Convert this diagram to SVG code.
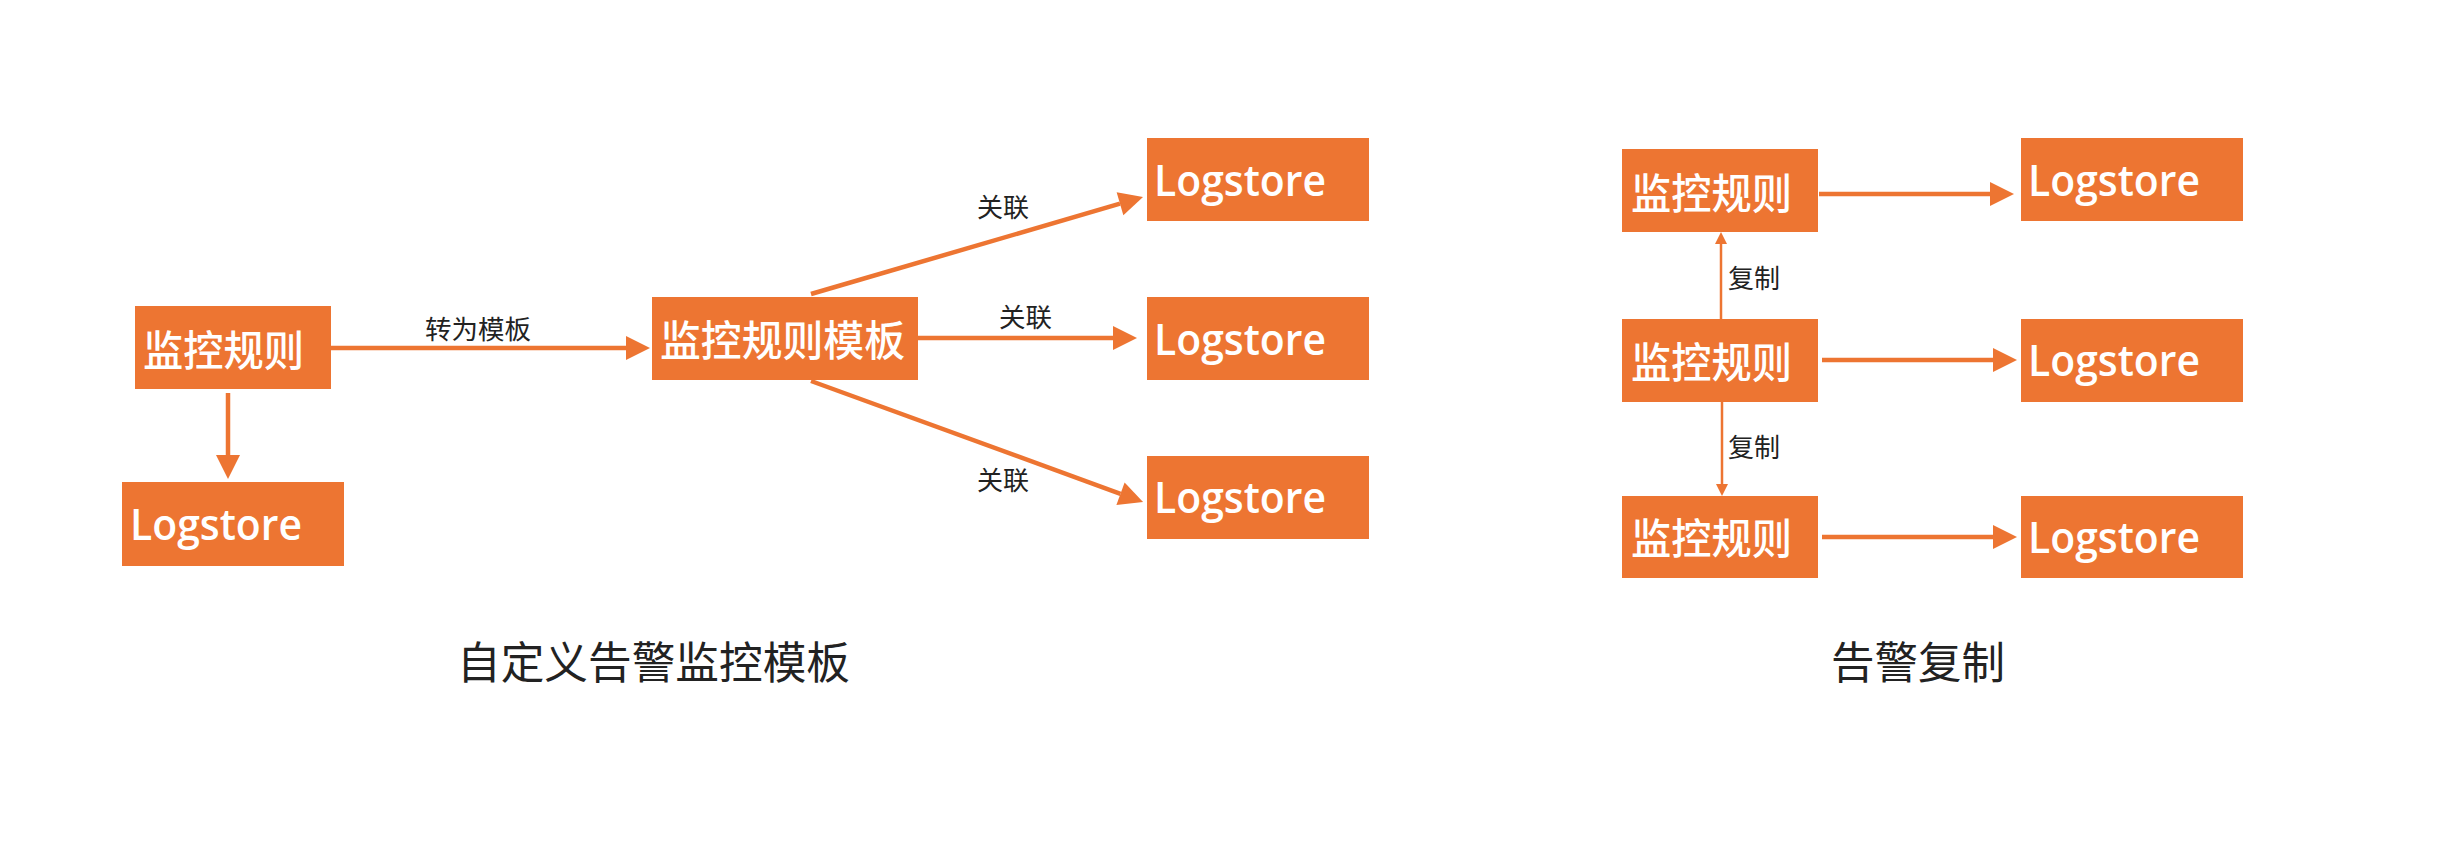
<svg xmlns="http://www.w3.org/2000/svg" width="2452" height="854" viewBox="0 0 2452 854">
<style>
.box{fill:#ED7532;}
.cn{font-family:"Noto Sans CJK SC","Microsoft YaHei",sans-serif;fill:#fff;font-size:42px;font-weight:500;}
.lg{font-family:"Open Sans","Noto Sans",sans-serif;fill:#fff;font-size:44px;font-weight:600;}
.lbl{font-family:"Noto Sans CJK SC",sans-serif;fill:#222;font-size:26px;}
.ttl{font-family:"Noto Sans CJK SC",sans-serif;fill:#222;font-size:44px;}
.thick{stroke:#ED7532;stroke-width:4.5;fill:none;marker-end:url(#ah);}
.thin{stroke:#ED7532;stroke-width:2.5;fill:none;marker-end:url(#ahs);}
</style>
<defs>
<marker id="ah" markerUnits="userSpaceOnUse" markerWidth="25" markerHeight="25" refX="0" refY="12" orient="auto" overflow="visible">
<path d="M0,0 L24,12 L0,24 z" fill="#ED7532"/>
</marker>
<marker id="ahs" markerUnits="userSpaceOnUse" markerWidth="13" markerHeight="13" refX="0" refY="6" orient="auto" overflow="visible">
<path d="M0,0 L12,6 L0,12 z" fill="#ED7532"/>
</marker>
</defs>
<rect width="2452" height="854" fill="#fff"/>

<g id="connectors">
<line class="thick" x1="331" y1="348" x2="626" y2="348"/>
<line class="thick" x1="228" y1="393" x2="228" y2="455"/>
<line class="thick" x1="811" y1="294" x2="1120" y2="203.7"/>
<line class="thick" x1="918" y1="338" x2="1113" y2="338"/>
<line class="thick" x1="811" y1="381" x2="1120.5" y2="493.8"/>
<line class="thick" x1="1819" y1="194" x2="1990" y2="194"/>
<line class="thick" x1="1822" y1="360" x2="1993" y2="360"/>
<line class="thick" x1="1822" y1="537" x2="1993" y2="537"/>
<line class="thin" x1="1721" y1="319" x2="1721" y2="244"/>
<line class="thin" x1="1722" y1="402" x2="1722" y2="484"/>
<text class="lbl" x="425" y="339" textLength="106" lengthAdjust="spacingAndGlyphs">转为模板</text>
<text class="lbl" x="977" y="217" textLength="52" lengthAdjust="spacingAndGlyphs">关联</text>
<text class="lbl" x="999" y="327" textLength="53" lengthAdjust="spacingAndGlyphs">关联</text>
<text class="lbl" x="977" y="490" textLength="52" lengthAdjust="spacingAndGlyphs">关联</text>
<text class="lbl" x="1728" y="288" textLength="52" lengthAdjust="spacingAndGlyphs">复制</text>
<text class="lbl" x="1728" y="457" textLength="52" lengthAdjust="spacingAndGlyphs">复制</text>
</g>

<g id="rule-left">
<rect class="box" x="135" y="306" width="196" height="83"/>
<text class="cn" x="143" y="366" textLength="161" lengthAdjust="spacingAndGlyphs">监控规则</text>
</g>
<g id="logstore-left">
<rect class="box" x="122" y="482" width="222" height="84"/>
<text class="lg" x="130" y="540" textLength="172" lengthAdjust="spacingAndGlyphs">Logstore</text>
</g>
<g id="template">
<rect class="box" x="652" y="297" width="266" height="83"/>
<text class="cn" x="660" y="356" textLength="245" lengthAdjust="spacingAndGlyphs">监控规则模板</text>
</g>
<g id="logstore-t1">
<rect class="box" x="1147" y="138" width="222" height="83"/>
<text class="lg" x="1154" y="196" textLength="172" lengthAdjust="spacingAndGlyphs">Logstore</text>
</g>
<g id="logstore-t2">
<rect class="box" x="1147" y="297" width="222" height="83"/>
<text class="lg" x="1154" y="355" textLength="172" lengthAdjust="spacingAndGlyphs">Logstore</text>
</g>
<g id="logstore-t3">
<rect class="box" x="1147" y="456" width="222" height="83"/>
<text class="lg" x="1154" y="513" textLength="172" lengthAdjust="spacingAndGlyphs">Logstore</text>
</g>

<g id="rule-r1">
<rect class="box" x="1622" y="149" width="196" height="83"/>
<text class="cn" x="1631" y="209" textLength="161" lengthAdjust="spacingAndGlyphs">监控规则</text>
</g>
<g id="rule-r2">
<rect class="box" x="1622" y="319" width="196" height="83"/>
<text class="cn" x="1631" y="378" textLength="161" lengthAdjust="spacingAndGlyphs">监控规则</text>
</g>
<g id="rule-r3">
<rect class="box" x="1622" y="496" width="196" height="82"/>
<text class="cn" x="1631" y="554" textLength="161" lengthAdjust="spacingAndGlyphs">监控规则</text>
</g>
<g id="logstore-r1">
<rect class="box" x="2021" y="138" width="222" height="83"/>
<text class="lg" x="2028" y="196" textLength="172" lengthAdjust="spacingAndGlyphs">Logstore</text>
</g>
<g id="logstore-r2">
<rect class="box" x="2021" y="319" width="222" height="83"/>
<text class="lg" x="2028" y="376" textLength="172" lengthAdjust="spacingAndGlyphs">Logstore</text>
</g>
<g id="logstore-r3">
<rect class="box" x="2021" y="496" width="222" height="82"/>
<text class="lg" x="2028" y="553" textLength="172" lengthAdjust="spacingAndGlyphs">Logstore</text>
</g>

<g id="titles">
<text class="ttl" x="457" y="679" textLength="393" lengthAdjust="spacingAndGlyphs">自定义告警监控模板</text>
<text class="ttl" x="1831" y="679" textLength="174" lengthAdjust="spacingAndGlyphs">告警复制</text>
</g>
</svg>
